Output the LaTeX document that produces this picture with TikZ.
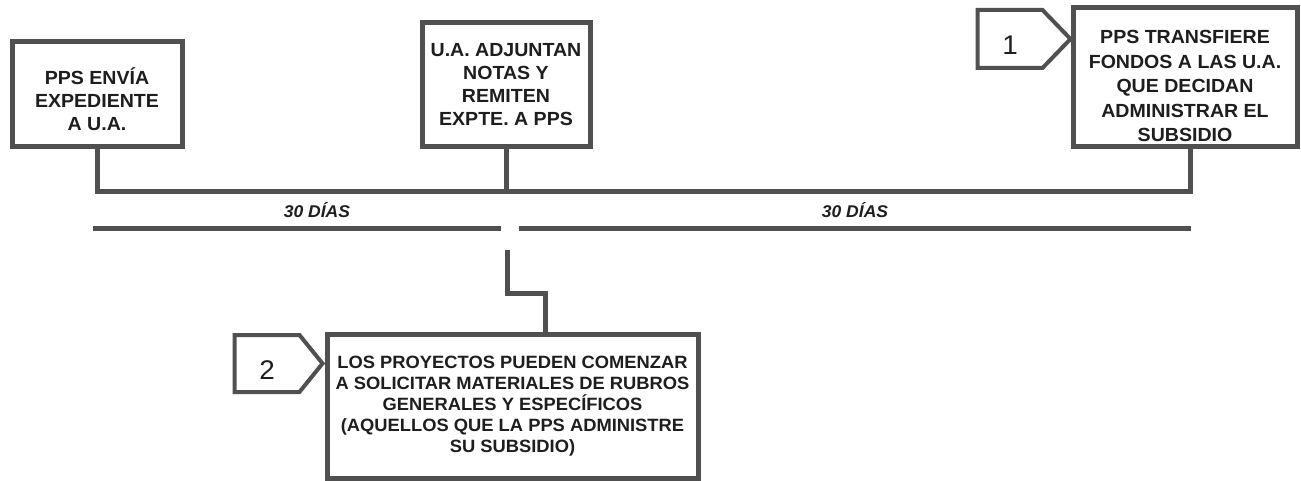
\documentclass[tikz,border=0pt]{standalone}
\usepackage{fontspec}
\setmainfont{Liberation Sans}[FakeStretch=1.03]
\usepackage{xcolor}
\usetikzlibrary{calc}
\usetikzlibrary{positioning}
\usetikzlibrary{shapes.symbols}
\definecolor{linegray}{RGB}{80,80,80}
\definecolor{inkgray}{RGB}{30,30,30}

\begin{document}
\begin{tikzpicture}[x=1pt,y=-1pt,-,line join=miter,semithick]
 				 \tikzstyle{box}=[draw=linegray, line width=5pt, fill=white, inner sep=0pt, align=center, text=inkgray, font=\bfseries\fontsize{19}{23}\selectfont]
 				 \tikzstyle{tag}=[draw=linegray, line width=4pt, fill=white, shape=signal, signal to=east, inner sep=0pt, text height=32pt, text depth=0pt, text=inkgray, font=\fontsize{27}{27}\selectfont]
 				 \tikzstyle{conn}=[draw=linegray, line width=5pt]
 				 \tikzstyle{days}=[text=inkgray, font=\bfseries\itshape\fontsize{17}{17}\selectfont]
 					 \useasboundingbox (0,0) rectangle (1301,481);
 					 \node[box, minimum width=170pt, minimum height=105pt] (A) at (97,94.5) {\rule{0pt}{26pt}PPS ENVÍA\\EXPEDIENTE\\A U.A.};
  					 \node[box, minimum width=168pt, minimum height=124pt] (B) at (506,85) {U.A. ADJUNTAN\\NOTAS Y\\REMITEN\\EXPTE. A PPS};
  					 \node[box, minimum width=224pt, minimum height=139pt] (C) at (1185,77.5) {};
  					 \node[box, draw=none, fill=none, font=\bfseries\fontsize{19}{24.5}\selectfont] (Ctext) at (1185,86) {PPS TRANSFIERE\\FONDOS A LAS U.A.\\QUE DECIDAN\\ADMINISTRAR EL\\SUBSIDIO};
  					 \node[box, minimum width=371pt, minimum height=144pt, font=\bfseries\fontsize{17.8}{21}\selectfont] (D) at (512.5,406) {LOS PROYECTOS PUEDEN COMENZAR\\A SOLICITAR MATERIALES DE RUBROS\\GENERALES Y ESPECÍFICOS\\(AQUELLOS QUE LA PPS ADMINISTRE\\SU SUBSIDIO)};
 					 \node[tag, minimum width=93pt, minimum height=58pt, signal pointer angle=92] (T1) at (1010,39) {1};
 					 \node[tag, minimum width=88pt, minimum height=57pt, signal pointer angle=102] (T2) at (267,363.5) {2};
 					 \coordinate (S1) at (93,229);
 					 \coordinate (E1) at (501,229);
 					 \coordinate (S2) at (519,229);
 					 \coordinate (E2) at (1191,229);
 					 \coordinate (M) at (507,250);
 					 \node[days] (D1) at (317,210) {30 DÍAS};
 					 \node[days] (D2) at (855,210) {30 DÍAS};
 					 \draw[conn] (A.south) -- ++(0,42) -| ([xshift=5pt]C.south);
 					 \draw[conn] (B.south) -- ++(0,42);
 					 \draw[conn] (S1) -- (E1);
 					 \draw[conn] (S2) -- (E2);
 					 \draw[conn] (M) -- ++(0,43) -| ([xshift=32.5pt]D.north);
				\end{tikzpicture}
\end{document}
